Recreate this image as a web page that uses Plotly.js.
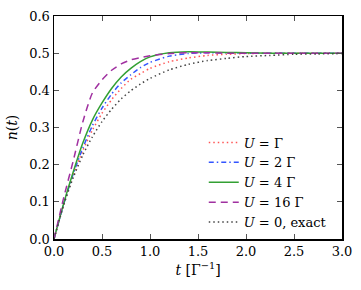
<!DOCTYPE html>
<html><head><meta charset="utf-8">
<script src="https://cdn.plot.ly/plotly-3.0.1.min.js"></script>
<style>body{margin:0;background:#fff}#c{width:361px;height:290px}</style>
</head><body><div id="c"></div>
<script>
const t      = [0, 0.1, 0.2, 0.3, 0.4, 0.5, 0.6, 0.7, 0.8, 0.9, 1.0, 1.2, 1.4, 1.6, 1.8, 2.0, 2.25, 2.5, 2.75, 3.0];
const nU1    = [0, 0.092, 0.171, 0.238, 0.293, 0.338, 0.375, 0.405, 0.430, 0.445, 0.459, 0.477, 0.487, 0.494, 0.497, 0.499, 0.500, 0.500, 0.500, 0.500];
const nU2    = [0, 0.093, 0.175, 0.245, 0.305, 0.352, 0.390, 0.420, 0.442, 0.461, 0.475, 0.492, 0.499, 0.501, 0.501, 0.500, 0.500, 0.500, 0.500, 0.500];
const nU4    = [0, 0.095, 0.180, 0.258, 0.320, 0.366, 0.405, 0.436, 0.459, 0.477, 0.490, 0.501, 0.504, 0.503, 0.502, 0.501, 0.500, 0.500, 0.500, 0.500];
const nU16   = [0, 0.110, 0.210, 0.315, 0.393, 0.428, 0.454, 0.471, 0.482, 0.488, 0.493, 0.499, 0.501, 0.501, 0.500, 0.500, 0.500, 0.500, 0.500, 0.500];
const nExact = [0, 0.091, 0.165, 0.226, 0.275, 0.316, 0.349, 0.377, 0.399, 0.417, 0.432, 0.455, 0.470, 0.480, 0.486, 0.491, 0.494, 0.497, 0.498, 0.499];
const labels = ['<i>U</i> = Γ', '<i>U</i> = 2 Γ', '<i>U</i> = 4 Γ', '<i>U</i> = 16 Γ', '<i>U</i> = 0, exact'];
const xticks = [0, 0.5, 1.0, 1.5, 2.0, 2.5, 3.0];
const yticks = [0, 0.1, 0.2, 0.3, 0.4, 0.5, 0.6];

const F = 'DejaVu Serif';
const mk = (y, name, color, dash) => ({x: t, y: y, name: name, type: 'scatter', mode: 'lines',
  line: {color: color, width: 1.5, dash: dash, shape: 'spline', smoothing: 0.6}});
const data = [
  mk(nU1, labels[0], '#ff5555', '1.5px,3px'),
  mk(nU2, labels[1], '#3355ff', '5px,3px,1.5px,3px'),
  mk(nU4, labels[2], '#33a033', 'solid'),
  mk(nU16, labels[3], '#a030a0', '7px,5px'),
  mk(nExact, labels[4], '#444444', '1.5px,3px')
];
const ax = {showline: true, linecolor: '#000', linewidth: 1.5, mirror: 'ticks', ticks: 'inside',
  ticklen: 5, tickcolor: '#555', tickwidth: 1, showgrid: false, zeroline: false,
  tickfont: {family: F, size: 13, color: '#000'}};
const layout = {
  width: 361, height: 290, margin: {l: 54, r: 19, t: 16, b: 51},
  paper_bgcolor: '#fff', plot_bgcolor: '#fff', font: {family: F, color: '#000'},
  xaxis: Object.assign({}, ax, {range: [0, 3], tickvals: xticks, ticktext: xticks.map(v => v.toFixed(1)),
    title: {text: '<i>t</i> [Γ<sup>−1</sup>]', font: {family: F, size: 14}, standoff: 7}}),
  yaxis: Object.assign({}, ax, {range: [0, 0.6], tickvals: yticks, ticktext: yticks.map(v => v.toFixed(1)),
    title: {text: '<i>n</i>(<i>t</i>)', font: {family: F, size: 14}, standoff: 8}}),
  showlegend: true,
  legend: {x: 0.52, y: 0.50, xanchor: 'left', yanchor: 'top', bgcolor: 'rgba(0,0,0,0)',
    font: {family: F, size: 13, color: '#000'}, tracegroupgap: 0}
};
Plotly.newPlot('c', data, layout, {staticPlot: true, displayModeBar: false});
</script></body></html>
